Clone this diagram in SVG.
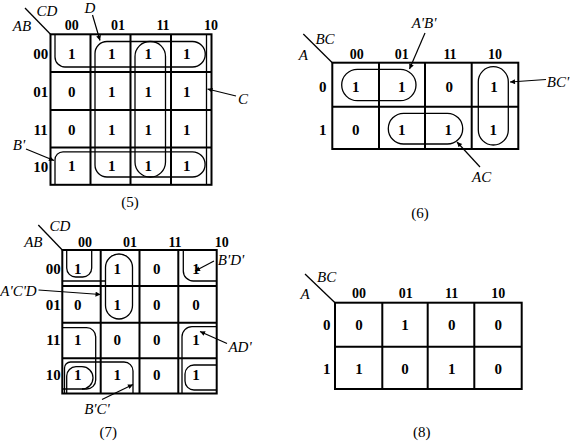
<svg xmlns="http://www.w3.org/2000/svg" width="572" height="443" viewBox="0 0 572 443">
<style>
.grid{fill:none;stroke:#000;stroke-width:2}
.loop{fill:none;stroke:#000;stroke-width:1.3}
.ln{stroke:#000;stroke-width:1.3;fill:none}
.ar{stroke:#000;stroke-width:1.2;fill:none;marker-end:url(#ah)}
.d{font-family:"Liberation Serif",serif;font-weight:bold;font-size:15px;text-anchor:middle}
.h{font-family:"Liberation Serif",serif;font-weight:bold;font-size:14px;text-anchor:middle}
.v{font-family:"Liberation Serif",serif;font-style:italic;font-size:15px;text-anchor:middle}
.c{font-family:"Liberation Serif",serif;font-size:15px;text-anchor:middle}
</style>
<defs>
<marker id="ah" viewBox="0 0 10 10" refX="10" refY="5" markerWidth="8" markerHeight="5" orient="auto" markerUnits="userSpaceOnUse"><path d="M0,0 L10,5 L0,10 z" fill="#000"/></marker>
</defs>

<g id="map5">
<rect class="grid" x="50.5" y="34.3" width="161" height="150.5"/>
<path class="grid" d="M90.5,34.3V184.8M130.5,34.3V184.8M171,34.3V184.8M50.5,72H211.5M50.5,110H211.5M50.5,147.5H211.5"/>
<line class="ln" x1="25" y1="8" x2="50.5" y2="34.3"/>
<text class="v" x="47" y="16">CD</text>
<text class="v" x="22" y="31">AB</text>
<text class="h" x="71.7" y="30">00</text><text class="h" x="118" y="30">01</text><text class="h" x="163" y="30">11</text><text class="h" x="211" y="30">10</text>
<text class="d" x="40.7" y="58.5">00</text><text class="d" x="40.7" y="97">01</text><text class="d" x="40.7" y="134.5">11</text><text class="d" x="40.7" y="172">10</text>
<text class="d" x="71.7" y="58.5">1</text><text class="d" x="111.7" y="58.5">1</text><text class="d" x="148.3" y="58.5">1</text><text class="d" x="186.7" y="58.5">1</text>
<text class="d" x="71.7" y="97">0</text><text class="d" x="111.7" y="97">1</text><text class="d" x="148.3" y="97">1</text><text class="d" x="186.7" y="97">1</text>
<text class="d" x="71.7" y="134.5">0</text><text class="d" x="111.7" y="134.5">1</text><text class="d" x="148.3" y="134.5">1</text><text class="d" x="186.7" y="134.5">1</text>
<text class="d" x="71.7" y="170.5">1</text><text class="d" x="111.7" y="170.5">1</text><text class="d" x="148.3" y="170.5">1</text><text class="d" x="186.7" y="170.5">1</text>
<path class="loop" d="M55,34.3V57A10,10 0 0 0 65,67H192.5A12.75,12.75 0 0 0 192.5,41.5H107A12,12 0 0 0 95,53.5V165A12,12 0 0 0 107,177H192.5A12.6,12.6 0 0 0 192.5,151.8H63A8,8 0 0 0 55,159.8V184.8"/>
<rect class="loop" x="135" y="41.5" width="30.5" height="135.5" rx="15" ry="15"/>
<line class="ln" x1="206.5" y1="34.3" x2="206.5" y2="184.8"/>
<text class="v" x="90" y="13">D</text>
<text class="v" x="243" y="104">C</text>
<text class="v" x="19" y="150">B'</text>
<text class="c" x="130" y="207">(5)</text>
</g>

<g id="map6">
<rect class="grid" x="332.3" y="62.7" width="186" height="86.3"/>
<path class="grid" d="M379,62.7V149M425,62.7V149M471.7,62.7V149M332.3,106.7H518.3"/>
<line class="ln" x1="303.3" y1="34" x2="332.3" y2="62.7"/>
<text class="v" x="325" y="44">BC</text>
<text class="v" x="303.3" y="60">A</text>
<text class="h" x="356.7" y="59">00</text><text class="h" x="401.7" y="59">01</text><text class="h" x="450" y="59">11</text><text class="h" x="495" y="59">10</text>
<text class="d" x="322.7" y="92">0</text><text class="d" x="322.7" y="135.3">1</text>
<text class="d" x="355.7" y="92">1</text><text class="d" x="401.7" y="92">1</text><text class="d" x="449.3" y="92">0</text><text class="d" x="494" y="92">1</text>
<text class="d" x="355.7" y="135.3">0</text><text class="d" x="401.7" y="135.3">1</text><text class="d" x="448.3" y="135.3">1</text><text class="d" x="493.3" y="135.3">1</text>
<rect class="loop" x="341.7" y="69.3" width="74.3" height="31.4" rx="15.7" ry="15.7"/>
<rect class="loop" x="388.3" y="113.3" width="74.4" height="30.7" rx="15.3" ry="15.3"/>
<rect class="loop" x="478.3" y="66.7" width="30" height="78.3" rx="15" ry="15"/>
<text class="v" x="424" y="28">A'B'</text>
<text class="v" x="558" y="87">BC'</text>
<text class="v" x="481.7" y="182">AC</text>
<text class="c" x="420" y="218">(6)</text>
</g>

<g id="map7">
<rect class="grid" x="62.3" y="250" width="154.4" height="143.5"/>
<path class="grid" d="M100.7,250V393.5M139.5,250V393.5M178.3,250V393.5M62.3,286H216.7M62.3,322.7H216.7M62.3,358.3H216.7"/>
<line class="ln" x1="38.3" y1="225" x2="62.3" y2="250"/>
<text class="v" x="60" y="231">CD</text>
<text class="v" x="33.3" y="247">AB</text>
<text class="h" x="85" y="246.5">00</text><text class="h" x="130" y="246.5">01</text><text class="h" x="175" y="246.5">11</text><text class="h" x="221.7" y="246.5">10</text>
<text class="d" x="53.3" y="273.5">00</text><text class="d" x="53.3" y="310.3">01</text><text class="d" x="53.3" y="345.3">11</text><text class="d" x="53.3" y="380.3">10</text>
<text class="d" x="77.7" y="273.5">1</text><text class="d" x="117.3" y="273.5">1</text><text class="d" x="156.7" y="273.5">0</text><text class="d" x="196" y="273.5">1</text>
<text class="d" x="77.7" y="310.3">0</text><text class="d" x="117.3" y="310.3">1</text><text class="d" x="156.7" y="310.3">0</text><text class="d" x="196" y="310.3">0</text>
<text class="d" x="77.7" y="345.3">1</text><text class="d" x="117.3" y="345.3">0</text><text class="d" x="156.7" y="345.3">0</text><text class="d" x="196" y="345.3">1</text>
<text class="d" x="77.7" y="380.3">1</text><text class="d" x="117.3" y="380.3">1</text><text class="d" x="156.7" y="380.3">0</text><text class="d" x="196" y="380.3">1</text>
<path class="loop" d="M66.7,250V268A9,9 0 0 0 75.7,277H82.7A9,9 0 0 0 91.7,268V250"/>
<line class="ln" x1="62.3" y1="281" x2="105.5" y2="281"/>
<rect class="loop" x="105.5" y="254" width="27" height="65" rx="13.5" ry="13.5"/>
<path class="loop" d="M183.3,250V271A10,10 0 0 0 193.3,281H216.7"/>
<path class="loop" d="M62.3,327.7H86.7A9,9 0 0 1 95.7,336.7V380A9,9 0 0 1 86.7,389H62.3"/>
<path class="loop" d="M64.5,393.5V368A6,6 0 0 1 70.5,362H124A9,9 0 0 1 133,371V393.5"/>
<path class="loop" d="M66.7,393.5V376A9.3,9.3 0 0 1 76,366.7H82A11,11 0 0 1 93,377.7V378A11,11 0 0 1 82,389"/>
<path class="loop" d="M216.7,326.7H192A10,10 0 0 0 182,336.7V393.5"/>
<path class="loop" d="M216.7,365H194A9,9 0 0 0 185,374V381A9,9 0 0 0 194,390H216.7"/>
<text class="v" x="18.5" y="295.5">A'C'D</text>
<text class="v" x="231" y="265">B'D'</text>
<text class="v" x="240" y="352">AD'</text>
<text class="v" x="97" y="414">B'C'</text>
<text class="c" x="108.3" y="437">(7)</text>
</g>

<g id="map8">
<rect class="grid" x="335" y="302.7" width="186.7" height="86.3"/>
<path class="grid" d="M382.3,302.7V389M427.7,302.7V389M474.3,302.7V389M335,346.7H521.7"/>
<line class="ln" x1="305" y1="274" x2="335" y2="302.7"/>
<text class="v" x="326.7" y="282">BC</text>
<text class="v" x="305" y="298.5">A</text>
<text class="h" x="359" y="297.5">00</text><text class="h" x="405.7" y="297.5">01</text><text class="h" x="451.7" y="297.5">11</text><text class="h" x="498.3" y="297.5">10</text>
<text class="d" x="326.7" y="330.3">0</text><text class="d" x="326.7" y="373.6">1</text>
<text class="d" x="359" y="330.3">0</text><text class="d" x="405" y="330.3">1</text><text class="d" x="451.7" y="330.3">0</text><text class="d" x="498.3" y="330.3">0</text>
<text class="d" x="359" y="373.6">1</text><text class="d" x="405" y="373.6">0</text><text class="d" x="451.7" y="373.6">1</text><text class="d" x="498.3" y="373.6">0</text>
<text class="c" x="421.7" y="437">(8)</text>
</g>

<g id="connectors">
<line class="ar" x1="92.5" y1="15" x2="100" y2="40.5"/>
<line class="ar" x1="236" y1="96" x2="207.5" y2="89"/>
<line class="ar" x1="26" y1="149" x2="54" y2="160.5"/>
<line class="ar" x1="425" y1="33" x2="409.5" y2="69"/>
<line class="ar" x1="546" y1="79.5" x2="510" y2="82"/>
<line class="ar" x1="480" y1="167" x2="457" y2="142"/>
<line class="ar" x1="38.5" y1="290" x2="100.5" y2="294.5"/>
<line class="ar" x1="214" y1="261" x2="195" y2="271"/>
<line class="ar" x1="227" y1="343.5" x2="200" y2="331.5"/>
<line class="ar" x1="102" y1="399.5" x2="133" y2="384.5"/>
</g>
</svg>
